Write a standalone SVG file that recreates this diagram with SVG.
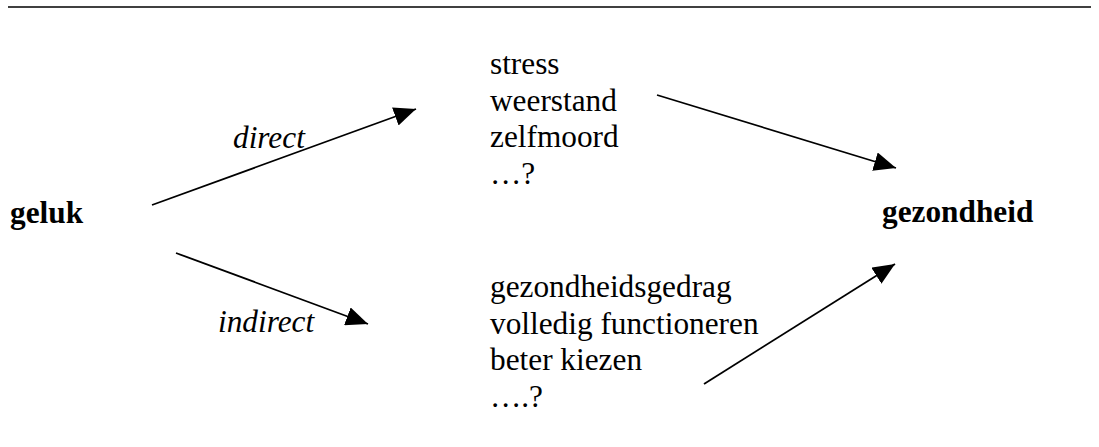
<svg xmlns="http://www.w3.org/2000/svg" width="1099" height="447" viewBox="0 0 1099 447">
<style>
text{font-family:'Liberation Serif','Times New Roman',Times,serif;font-size:31.3px;fill:#000}
.b{font-weight:bold}
.i{font-style:italic}
.c{stroke:#000;stroke-width:1.8;fill:none}
</style>
<defs>
<marker id="ah" markerUnits="userSpaceOnUse" markerWidth="23" markerHeight="19" refX="22" refY="9.5" orient="auto" viewBox="0 0 23 19">
<path d="M0,0 L22,9.5 L0,19 z" fill="#000"/>
</marker>
</defs>
<rect width="1099" height="447" fill="#fff"/>
<line x1="8" y1="7" x2="1091" y2="7" stroke="#000" stroke-width="1.5"/>
<g id="connectors">
<line class="c" x1="152" y1="205" x2="416" y2="109" marker-end="url(#ah)"/>
<line class="c" x1="176" y1="253" x2="368" y2="324" marker-end="url(#ah)"/>
<line class="c" x1="657" y1="95" x2="896" y2="168" marker-end="url(#ah)"/>
<line class="c" x1="704" y1="384" x2="895" y2="264" marker-end="url(#ah)"/>
</g>
<g id="label-direct"><text class="i" x="233" y="148">direct</text></g>
<g id="label-indirect"><text class="i" x="218" y="332">indirect</text></g>
<g id="node-geluk"><text class="b" x="10" y="223">geluk</text></g>
<g id="node-gezondheid"><text class="b" x="882" y="222">gezondheid</text></g>
<g id="node-direct-factors">
<text x="490" y="74">stress</text>
<text x="490" y="110.5">weerstand</text>
<text x="490" y="147">zelfmoord</text>
<text x="490" y="183.5">…?</text>
</g>
<g id="node-indirect-factors">
<text x="490" y="297">gezondheidsgedrag</text>
<text x="490" y="333.5">volledig functioneren</text>
<text x="490" y="370">beter kiezen</text>
<text x="490" y="406.5">….?</text>
</g>
</svg>
